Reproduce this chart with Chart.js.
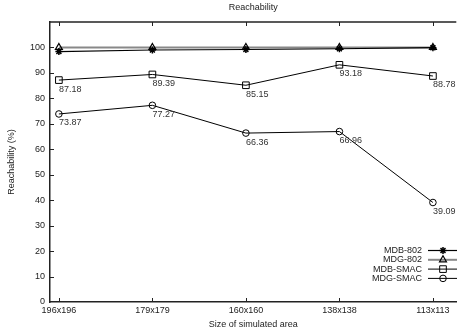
<!DOCTYPE html>
<html>
<head>
<meta charset="utf-8">
<script src="https://cdn.jsdelivr.net/npm/chart.js@4.4.0/dist/chart.umd.min.js"></script>
<style>
  html, body { margin: 0; padding: 0; background: #fff; }
  canvas { display: block; }
</style>
</head>
<body>
<canvas id="chart" width="462" height="335"></canvas>
<script>
const categories = ["196x196", "179x179", "160x160", "138x138", "113x113"];
const mdb802 = [98.4, 99.0, 99.2, 99.5, 99.9];
const mdg802 = [100, 100, 100, 100, 100];
const mdbSmac = [87.18, 89.39, 85.15, 93.18, 88.78];
const mdgSmac = [73.87, 77.27, 66.36, 66.96, 39.09];
const yTicks = [0, 10, 20, 30, 40, 50, 60, 70, 80, 90, 100, 110];

const ink = "#222";
Chart.defaults.font.family = "'Liberation Sans', Arial, sans-serif";
Chart.defaults.font.size = 9;
Chart.defaults.color = ink;

function points(values) {
    return values.map((v, i) => ({ x: i, y: v }));
}

function series(label, values, style, color, width, radius, markWidth, showValues) {
    return {
        label,
        data: points(values),
        borderColor: color,
        borderWidth: width,
        pointStyle: style,
        pointRadius: radius,
        pointBorderColor: "#000",
        pointBorderWidth: markWidth,
        pointBackgroundColor: "rgba(0,0,0,0)",
        tension: 0,
        showValues
    };
}

// top border and inward tick marks, gnuplot style
const frame = {
    id: "frame",
    afterDraw(chart) {
        const { ctx, chartArea: a, scales: { x, y } } = chart;
        ctx.save();
        ctx.strokeStyle = ink;
        ctx.lineWidth = 1.5;
        ctx.beginPath();
        ctx.moveTo(a.left, a.top);
        ctx.lineTo(a.right, a.top);
        ctx.stroke();
        ctx.lineWidth = 1;
        ctx.beginPath();
        categories.forEach((c, i) => {
            const px = Math.round(x.getPixelForValue(i)) + 0.5;
            ctx.moveTo(px, a.bottom);
            ctx.lineTo(px, a.bottom - 4);
            ctx.moveTo(px, a.top);
            ctx.lineTo(px, a.top + 4);
        });
        yTicks.slice(1, -1).forEach(v => {
            const py = Math.round(y.getPixelForValue(v)) + 0.5;
            ctx.moveTo(a.left, py);
            ctx.lineTo(a.left + 4, py);
        });
        ctx.stroke();
        ctx.restore();
    }
};

const valueLabels = {
    id: "valueLabels",
    afterDatasetsDraw(chart) {
        const { ctx } = chart;
        ctx.save();
        ctx.font = "9px 'Liberation Sans', Arial, sans-serif";
        ctx.fillStyle = "#333";
        ctx.textAlign = "left";
        ctx.textBaseline = "middle";
        chart.data.datasets.forEach((ds, di) => {
            if (!ds.showValues) return;
            chart.getDatasetMeta(di).data.forEach((pt, i) => {
                ctx.fillText(ds.data[i].y.toFixed(2), pt.x, pt.y + 9);
            });
        });
        ctx.restore();
    }
};

const legendBox = {
    id: "legendBox",
    afterDraw(chart) {
        const { ctx } = chart;
        ctx.save();
        ctx.font = "9px 'Liberation Sans', Arial, sans-serif";
        ctx.textAlign = "right";
        ctx.textBaseline = "middle";
        chart.data.datasets.forEach((ds, i) => {
            const yy = 250.5 + i * 9.3;
            ctx.fillStyle = ink;
            ctx.fillText(ds.label, 422, yy);
            ctx.strokeStyle = ds.borderColor;
            ctx.lineWidth = ds.borderWidth;
            ctx.beginPath();
            ctx.moveTo(428, yy);
            ctx.lineTo(457, yy);
            ctx.stroke();
            ctx.strokeStyle = "#000";
            ctx.fillStyle = "rgba(0,0,0,0)";
            ctx.lineWidth = ds.pointBorderWidth;
            Chart.helpers.drawPoint(ctx, {
                pointStyle: ds.pointStyle, radius: ds.pointRadius, rotation: 0,
                borderWidth: ds.pointBorderWidth
            }, 443, yy);
        });
        ctx.restore();
    }
};

new Chart(document.getElementById("chart"), {
    type: "line",
    data: {
        datasets: [
            series("MDB-802", mdb802, "star", "#000", 1.2, 3.5, 1.5, false),
            series("MDG-802", mdg802, "triangle", "#888", 2, 4, 1.2, false),
            series("MDB-SMAC", mdbSmac, "rect", "#000", 1, 4.7, 1, true),
            series("MDG-SMAC", mdgSmac, "circle", "#000", 1, 3.3, 1, true)
        ]
    },
    options: {
        responsive: false,
        animation: false,
        devicePixelRatio: 1,
        layout: { padding: 0 },
        plugins: {
            legend: { display: false },
            tooltip: { enabled: false },
            title: {
                display: true,
                text: "Reachability",
                fullSize: false,
                color: ink,
                font: { size: 9, weight: "normal", lineHeight: 1.2 },
                padding: { top: 2.6, bottom: 8.6 }
            }
        },
        scales: {
            x: {
                type: "linear",
                min: -0.095,
                max: 4.25,
                grid: { display: false, drawTicks: false },
                border: { color: ink, width: 1.5 },
                afterBuildTicks: s => { s.ticks = categories.map((c, i) => ({ value: i })); },
                afterFit: s => { s.height = 33; },
                ticks: {
                    padding: 3,
                    maxRotation: 0,
                    autoSkip: false,
                    callback: v => categories[v]
                },
                title: {
                    display: true,
                    text: "Size of simulated area",
                    font: { size: 9, lineHeight: 1.2 },
                    padding: { top: 0, bottom: 5.5 }
                }
            },
            y: {
                min: 0,
                max: 110,
                grid: { display: false, drawTicks: false },
                border: { color: ink, width: 1.5 },
                afterBuildTicks: s => { s.ticks = yTicks.map(v => ({ value: v })); },
                afterFit: s => { s.width = 50; },
                ticks: {
                    padding: 5,
                    callback: v => (v === 110 ? "" : v)
                },
                title: {
                    display: true,
                    text: "Reachability (%)",
                    font: { size: 9, lineHeight: 1.2 },
                    padding: { top: 6.6, bottom: 0 }
                }
            }
        }
    },
    plugins: [frame, valueLabels, legendBox]
});
</script>
</body>
</html>
